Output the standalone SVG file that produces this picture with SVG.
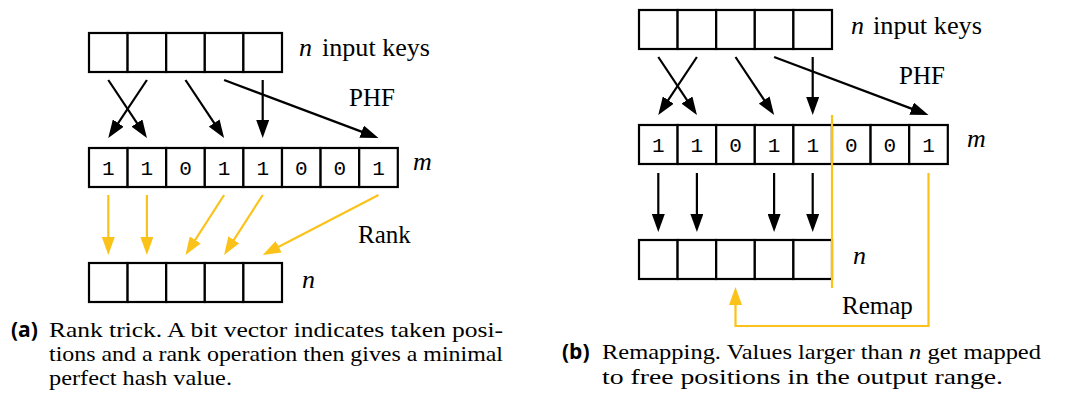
<svg xmlns="http://www.w3.org/2000/svg" width="1075" height="395" viewBox="0 0 1075 395">
  <style>
    .cell { fill: #ffffff; stroke: #000000; stroke-width: 2.2; }
    .bit { font-family: "Liberation Mono", "DejaVu Sans Mono", monospace; font-size: 21px; text-anchor: middle; fill: #000; }
    .lbl { font-family: "Liberation Serif", "Times New Roman", serif; font-size: 25px; fill: #000; }
    .math { font-family: "Liberation Serif", "Times New Roman", serif; font-size: 26px; font-style: italic; fill: #000; }
    .cap { font-family: "Liberation Serif", "Times New Roman", serif; font-size: 21px; fill: #000; }
    .tag { font-family: "Open Sans", "DejaVu Sans", sans-serif; font-size: 21px; font-weight: 700; fill: #000; }
    .arr { fill: none; stroke: #000000; stroke-width: 2.2; }
    .gold { fill: none; stroke: #FBC31A; stroke-width: 2.2; }
  </style>
  <defs>
    <marker id="headBlack" markerUnits="userSpaceOnUse" markerWidth="18" markerHeight="13" refX="14" refY="6.5" orient="auto">
      <path d="M0,0 L18,6.5 L0,13 z" fill="#000000"/>
    </marker>
    <marker id="headGold" markerUnits="userSpaceOnUse" markerWidth="18" markerHeight="13" refX="14" refY="6.5" orient="auto">
      <path d="M0,0 L18,6.5 L0,13 z" fill="#FBC31A"/>
    </marker>
  </defs>

  <rect width="1075" height="395" fill="#ffffff"/>

  <!-- ===== (a) rank trick ===== -->
  <g id="a-keys">
    <rect class="cell" x="89" y="33" width="38.6" height="39"/>
    <rect class="cell" x="127.6" y="33" width="38.6" height="39"/>
    <rect class="cell" x="166.2" y="33" width="38.6" height="39"/>
    <rect class="cell" x="204.8" y="33" width="38.6" height="39"/>
    <rect class="cell" x="243.4" y="33" width="38.6" height="39"/>
    <text class="math" x="299" y="56">n</text>
    <text class="lbl" x="322" y="56" textLength="108" lengthAdjust="spacingAndGlyphs">input keys</text>
  </g>

  <g id="a-bits">
    <rect class="cell" x="89" y="148" width="38.6" height="39"/>
    <rect class="cell" x="127.6" y="148" width="38.6" height="39"/>
    <rect class="cell" x="166.2" y="148" width="38.6" height="39"/>
    <rect class="cell" x="204.8" y="148" width="38.6" height="39"/>
    <rect class="cell" x="243.4" y="148" width="38.6" height="39"/>
    <rect class="cell" x="282" y="148" width="38.6" height="39"/>
    <rect class="cell" x="320.6" y="148" width="38.6" height="39"/>
    <rect class="cell" x="359.2" y="148" width="38.6" height="39"/>
    <text class="bit" x="108.3" y="175">1</text>
    <text class="bit" x="146.9" y="175">1</text>
    <text class="bit" x="185.5" y="175">0</text>
    <text class="bit" x="224.1" y="175">1</text>
    <text class="bit" x="262.7" y="175">1</text>
    <text class="bit" x="301.3" y="175">0</text>
    <text class="bit" x="339.9" y="175">0</text>
    <text class="bit" x="378.5" y="175">1</text>
    <text class="math" x="413" y="170">m</text>
  </g>

  <g id="a-out">
    <rect class="cell" x="89" y="263" width="38.6" height="39"/>
    <rect class="cell" x="127.6" y="263" width="38.6" height="39"/>
    <rect class="cell" x="166.2" y="263" width="38.6" height="39"/>
    <rect class="cell" x="204.8" y="263" width="38.6" height="39"/>
    <rect class="cell" x="243.4" y="263" width="38.6" height="39"/>
    <text class="math" x="302" y="288">n</text>
  </g>

  <g id="a-edge-labels">
    <text class="lbl" x="349" y="106">PHF</text>
    <text class="lbl" x="358" y="243">Rank</text>
  </g>

  <g id="a-connectors">
    <!-- PHF: keys to bit positions -->
    <line class="arr" x1="108.3" y1="80" x2="144.7" y2="134.7" marker-end="url(#headBlack)"/>
    <line class="arr" x1="146.9" y1="80" x2="110.5" y2="134.7" marker-end="url(#headBlack)"/>
    <line class="arr" x1="185.5" y1="80" x2="221.9" y2="134.7" marker-end="url(#headBlack)"/>
    <line class="arr" x1="262.7" y1="80" x2="262.7" y2="134" marker-end="url(#headBlack)"/>
    <line class="arr" x1="224.1" y1="80" x2="374.75" y2="136.6" marker-end="url(#headBlack)"/>
    <!-- rank: set bits to dense output -->
    <line class="gold" x1="108.3" y1="195" x2="108.3" y2="251" marker-end="url(#headGold)"/>
    <line class="gold" x1="146.9" y1="195" x2="146.9" y2="251" marker-end="url(#headGold)"/>
    <line class="gold" x1="224.1" y1="195" x2="187.66" y2="251.64" marker-end="url(#headGold)"/>
    <line class="gold" x1="262.7" y1="195" x2="226.26" y2="251.64" marker-end="url(#headGold)"/>
    <line class="gold" x1="378.5" y1="195" x2="266.25" y2="253.16" marker-end="url(#headGold)"/>
  </g>

  <g id="a-caption">
    <text class="tag" x="11" y="337">(a)</text>
    <text class="cap" x="49" y="337" textLength="454" lengthAdjust="spacingAndGlyphs">Rank trick.  A bit vector indicates taken posi-</text>
    <text class="cap" x="49" y="361" textLength="454" lengthAdjust="spacingAndGlyphs">tions and a rank operation then gives a minimal</text>
    <text class="cap" x="49" y="385" textLength="183" lengthAdjust="spacingAndGlyphs">perfect hash value.</text>
  </g>

  <!-- ===== (b) remapping ===== -->
  <g id="b-keys">
    <rect class="cell" x="639" y="10" width="38.6" height="39"/>
    <rect class="cell" x="677.6" y="10" width="38.6" height="39"/>
    <rect class="cell" x="716.2" y="10" width="38.6" height="39"/>
    <rect class="cell" x="754.8" y="10" width="38.6" height="39"/>
    <rect class="cell" x="793.4" y="10" width="38.6" height="39"/>
    <text class="math" x="851" y="34">n</text>
    <text class="lbl" x="873" y="34" textLength="109" lengthAdjust="spacingAndGlyphs">input keys</text>
  </g>

  <g id="b-bits">
    <rect class="cell" x="639" y="125" width="38.6" height="39"/>
    <rect class="cell" x="677.6" y="125" width="38.6" height="39"/>
    <rect class="cell" x="716.2" y="125" width="38.6" height="39"/>
    <rect class="cell" x="754.8" y="125" width="38.6" height="39"/>
    <rect class="cell" x="793.4" y="125" width="38.6" height="39"/>
    <rect class="cell" x="832" y="125" width="38.6" height="39"/>
    <rect class="cell" x="870.6" y="125" width="38.6" height="39"/>
    <rect class="cell" x="909.2" y="125" width="38.6" height="39"/>
    <text class="bit" x="658.3" y="152">1</text>
    <text class="bit" x="696.9" y="152">1</text>
    <text class="bit" x="735.5" y="152">0</text>
    <text class="bit" x="774.1" y="152">1</text>
    <text class="bit" x="812.7" y="152">1</text>
    <text class="bit" x="851.3" y="152">0</text>
    <text class="bit" x="889.9" y="152">0</text>
    <text class="bit" x="928.5" y="152">1</text>
    <text class="math" x="967" y="147">m</text>
  </g>

  <g id="b-out">
    <rect class="cell" x="639" y="240" width="38.6" height="39"/>
    <rect class="cell" x="677.6" y="240" width="38.6" height="39"/>
    <rect class="cell" x="716.2" y="240" width="38.6" height="39"/>
    <rect class="cell" x="754.8" y="240" width="38.6" height="39"/>
    <rect class="cell" x="793.4" y="240" width="38.6" height="39"/>
    <text class="math" x="853" y="264">n</text>
  </g>

  <g id="b-edge-labels">
    <text class="lbl" x="899" y="84">PHF</text>
    <text class="lbl" x="842" y="314">Remap</text>
  </g>

  <g id="b-connectors">
    <!-- PHF: keys to bit positions -->
    <line class="arr" x1="658.3" y1="57" x2="694.7" y2="111.7" marker-end="url(#headBlack)"/>
    <line class="arr" x1="696.9" y1="57" x2="660.5" y2="111.7" marker-end="url(#headBlack)"/>
    <line class="arr" x1="735.5" y1="57" x2="771.9" y2="111.7" marker-end="url(#headBlack)"/>
    <line class="arr" x1="812.7" y1="57" x2="812.7" y2="111" marker-end="url(#headBlack)"/>
    <line class="arr" x1="774.1" y1="57" x2="924.75" y2="113.6" marker-end="url(#headBlack)"/>
    <!-- positions below n map straight down -->
    <line class="arr" x1="658.3" y1="173" x2="658.3" y2="228" marker-end="url(#headBlack)"/>
    <line class="arr" x1="696.9" y1="173" x2="696.9" y2="228" marker-end="url(#headBlack)"/>
    <line class="arr" x1="774.1" y1="173" x2="774.1" y2="228" marker-end="url(#headBlack)"/>
    <line class="arr" x1="812.7" y1="173" x2="812.7" y2="228" marker-end="url(#headBlack)"/>
    <!-- range boundary at n -->
    <line class="gold" x1="832" y1="115" x2="832" y2="288"/>
    <!-- overflow value remapped to a free slot -->
    <path class="gold" d="M928.5,173 V326 H735.5 V291" marker-end="url(#headGold)"/>
  </g>

  <g id="b-caption">
    <text class="tag" x="562" y="359">(b)</text>
    <text class="cap" x="602" y="359" textLength="439" lengthAdjust="spacingAndGlyphs">Remapping.  Values larger than <tspan font-style="italic">n</tspan> get mapped</text>
    <text class="cap" x="602" y="384" textLength="401" lengthAdjust="spacingAndGlyphs">to free positions in the output range.</text>
  </g>
</svg>
